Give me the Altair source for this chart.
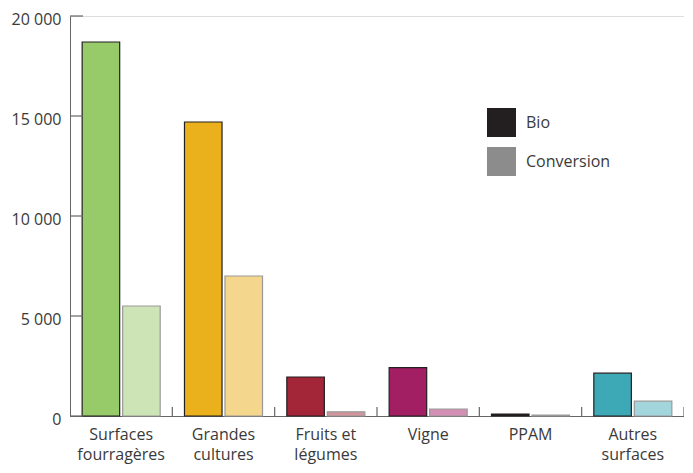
import altair as alt
import pandas as pd

categories = ["Surfaces|fourragères", "Grandes|cultures", "Fruits et|légumes", "Vigne", "PPAM", "Autres|surfaces"]
bio = [18700, 14700, 1950, 2420, 100, 2140]
conversion = [5500, 7000, 210, 350, 50, 740]
bio_colors = ["#97CB6A", "#EBB11C", "#A22538", "#A31F63", "#231F20", "#3EA9B6"]
conv_colors = ["#CDE5B6", "#F4D68C", "#D3949C", "#D48FB5", "#231F20", "#A2D6DC"]
types = ["Bio", "Conversion"]
legend_colors = ["#231F20", "#8C8C8C"]
y_ticks = [0, 5000, 10000, 15000, 20000]

rows = []
for c, b, v, bc, cc in zip(categories, bio, conversion, bio_colors, conv_colors):
    rows.append({"cat": c, "type": "Bio", "value": b, "fill": bc, "stroke": "#231F20"})
    rows.append({"cat": c, "type": "Conversion", "value": v, "fill": cc, "stroke": "#999999"})
df = pd.DataFrame(rows)
cat_df = pd.DataFrame({"cat": categories})
tick_df = pd.DataFrame({"v": y_ticks})
leg_df = pd.DataFrame({"type": types})

FONT = "Open Sans"
W, H = 614, 400
TXT = "#3a3a3a"

xscale = alt.Scale(domain=categories, paddingInner=0, paddingOuter=0)
yscale = alt.Scale(domain=[0, 20000], nice=False)

bars = alt.Chart(df).mark_bar(strokeWidth=1.2).encode(
    x=alt.X("cat:N", sort=categories, scale=xscale,
            axis=alt.Axis(title=None, labelAngle=0, ticks=False, domain=True,
                          domainColor="#666666", labelExpr="split(datum.label, '|')",
                          labelFontSize=16, labelColor=TXT, labelFont=FONT,
                          labelPadding=10, labelLineHeight=20, labelBaseline="top")),
    xOffset=alt.XOffset("type:N", sort=types, scale=alt.Scale(paddingInner=0.073, paddingOuter=0.3)),
    y=alt.Y("value:Q", scale=yscale,
            axis=alt.Axis(title=None, values=y_ticks, ticks=False, grid=False,
                          domainColor="#666666", labelFontSize=16, labelColor=TXT,
                          labelFont=FONT, labelPadding=9, labelOffset=3,
                          labelExpr="replace(format(datum.value, ','), ',', ' ')")),
    fill=alt.Fill("fill:N", scale=None),
    stroke=alt.Stroke("stroke:N", scale=None),
)

xticks = alt.Chart(cat_df).mark_rule(color="#666666", strokeWidth=1.2).encode(
    x=alt.X("cat:N", sort=categories, scale=xscale, bandPosition=1),
    y=alt.value(H - 9),
    y2=alt.value(H),
)

yticks = alt.Chart(tick_df).mark_rule(color="#666666", strokeWidth=1.2).encode(
    y=alt.Y("v:Q", scale=yscale),
    x=alt.value(0),
    x2=alt.value(13),
)

legend = alt.Chart(leg_df).mark_point(opacity=0, shape="square", filled=True).encode(
    color=alt.Color("type:N", scale=alt.Scale(domain=types, range=legend_colors),
                    legend=alt.Legend(title=None, orient="none", legendX=417, legendY=92,
                                      symbolType="square", symbolSize=841, symbolOpacity=1,
                                      symbolStrokeWidth=0, labelFontSize=16, labelFont=FONT,
                                      labelColor=TXT, rowPadding=10, labelOffset=10)),
)

chart = alt.layer(bars, xticks, yticks, legend).resolve_scale(
    fill="independent", stroke="independent", color="independent"
).properties(
    width=W, height=H,
    autosize=alt.AutoSizeParams(type="none"),
    padding={"left": 62, "top": 8, "right": 0, "bottom": 49},
).configure_view(stroke=None).configure(font=FONT)

chart.save("out.html", embed_options={"renderer": "svg", "actions": False})
